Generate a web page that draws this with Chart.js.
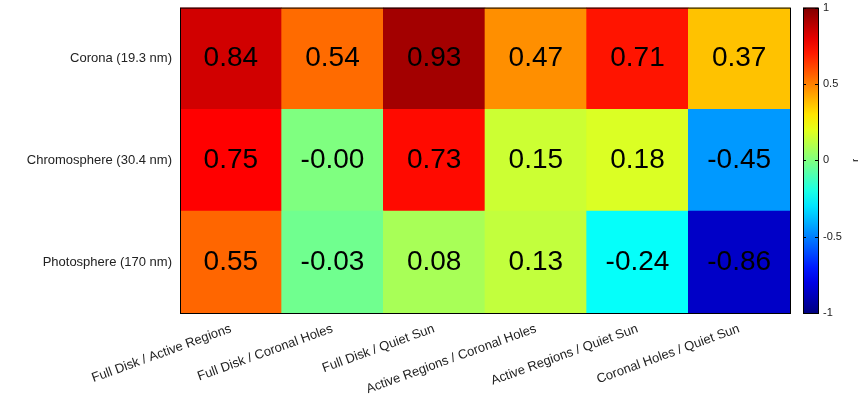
<!DOCTYPE html>
<html><head><meta charset="utf-8">
<script src="https://cdn.jsdelivr.net/npm/chart.js@4"></script>
<style>body{margin:0;background:#fff;overflow:hidden}#wrap{width:860px;height:440px;margin-top:-32px}</style>
</head><body><div id="wrap"><canvas id="c"></canvas></div>
<script>
var columns = ["Full Disk / Active Regions", "Full Disk / Coronal Holes", "Full Disk / Quiet Sun",
  "Active Regions / Coronal Holes", "Active Regions / Quiet Sun", "Coronal Holes / Quiet Sun"];
var rows = ["Photosphere (170 nm)", "Chromosphere (30.4 nm)", "Corona (19.3 nm)"];
var photosphere = [0.55, -0.03, 0.08, 0.13, -0.24, -0.86];
var chromosphere = [0.75, -0.001, 0.73, 0.15, 0.18, -0.45];
var corona = [0.84, 0.54, 0.93, 0.47, 0.71, 0.37];
var barTicks = [-1, -0.5, 0, 0.5, 1];
var values = [photosphere, chromosphere, corona];

function jet(v) {
  var t = (v + 1) / 2;
  function f(x) { return Math.max(0, Math.min(1, x)); }
  var r = f(Math.min(4 * t - 1.5, -4 * t + 4.5));
  var g = f(Math.min(4 * t - 0.5, -4 * t + 3.5));
  var b = f(Math.min(4 * t + 0.5, -4 * t + 2.5));
  return 'rgb(' + Math.round(r * 255) + ',' + Math.round(g * 255) + ',' + Math.round(b * 255) + ')';
}

var datasets = values.map(function(vals, i) {
  return {
    label: rows[i],
    data: vals.map(function() { return 1; }),
    backgroundColor: vals.map(jet),
    barPercentage: 1, categoryPercentage: 1, borderWidth: 0
  };
});

var overlay = {
  id: 'overlay',
  afterDatasetsDraw: function(chart) {
    var ctx = chart.ctx, a = chart.chartArea;
    ctx.save();
    ctx.font = '28px "Liberation Sans", Arial';
    ctx.fillStyle = '#000';
    ctx.textAlign = 'center'; ctx.textBaseline = 'middle';
    values.forEach(function(vals, i) {
      chart.getDatasetMeta(i).data.forEach(function(bar, j) {
        ctx.fillText(vals[j].toFixed(2), bar.x, (bar.y + bar.base) / 2);
      });
    });
    ctx.strokeStyle = '#000'; ctx.lineWidth = 1;
    ctx.strokeRect(a.left + 0.5, a.top + 0.5, a.right - a.left, a.bottom - a.top);
    var y2 = chart.scales.y2, x0 = a.right + 13, w = 15;
    var g = ctx.createLinearGradient(0, y2.bottom, 0, y2.top);
    for (var k = 0; k <= 20; k++) g.addColorStop(k / 20, jet(-1 + k / 10));
    ctx.fillStyle = g;
    ctx.fillRect(x0, y2.top, w, y2.bottom - y2.top);
    ctx.strokeRect(x0 + 0.5, y2.top + 0.5, w, y2.bottom - y2.top);
    barTicks.forEach(function(t) {
      var y = Math.round(y2.getPixelForValue(t)) + 0.5;
      ctx.beginPath();
      ctx.moveTo(x0, y); ctx.lineTo(x0 + 3, y);
      ctx.moveTo(x0 + w, y); ctx.lineTo(x0 + w - 3, y);
      ctx.stroke();
    });
    ctx.font = '9px "Liberation Sans", Arial';
    ctx.fillStyle = '#000';
    ctx.translate(856, (y2.top + y2.bottom) / 2);
    ctx.rotate(-Math.PI / 2);
    ctx.fillText('r', 0, 0);
    ctx.restore();
  }
};

new Chart(document.getElementById('c'), {
  type: 'bar',
  data: { labels: columns, datasets: datasets },
  plugins: [overlay],
  options: {
    responsive: true, maintainAspectRatio: false, animation: false,
    layout: { padding: { top: 8, right: 10, left: 0, bottom: 0 } },
    plugins: { legend: { display: false }, tooltip: { enabled: false } },
    scales: {
      x: {
        stacked: true, grid: { display: false }, border: { display: false },
        ticks: { color: '#222', padding: 0, font: { size: 13, family: '"Liberation Sans", Arial' }, minRotation: 20, maxRotation: 20 },
        afterFit: function(s) { s.height = 95; }
      },
      y: {
        stacked: true, min: 0, max: 3, grid: { display: false }, border: { display: false },
        afterBuildTicks: function(s) { s.ticks = [{ value: 0.5 }, { value: 1.5 }, { value: 2.5 }]; },
        ticks: { color: '#222', padding: 0, font: { size: 13, family: '"Liberation Sans", Arial' },
          callback: function(v) { return rows[Math.floor(v)]; } },
        afterFit: function(s) { s.width = 180; }
      },
      y2: {
        position: 'right', min: -1, max: 1, grid: { display: false, drawTicks: false }, border: { display: false },
        afterBuildTicks: function(s) { s.ticks = barTicks.map(function(v) { return { value: v }; }); },
        ticks: { color: '#222', padding: 33, font: { size: 11, family: '"Liberation Sans", Arial' },
          callback: function(v) { return String(v); } },
        afterFit: function(s) { s.width = 60; }
      }
    }
  }
});
</script></body></html>
